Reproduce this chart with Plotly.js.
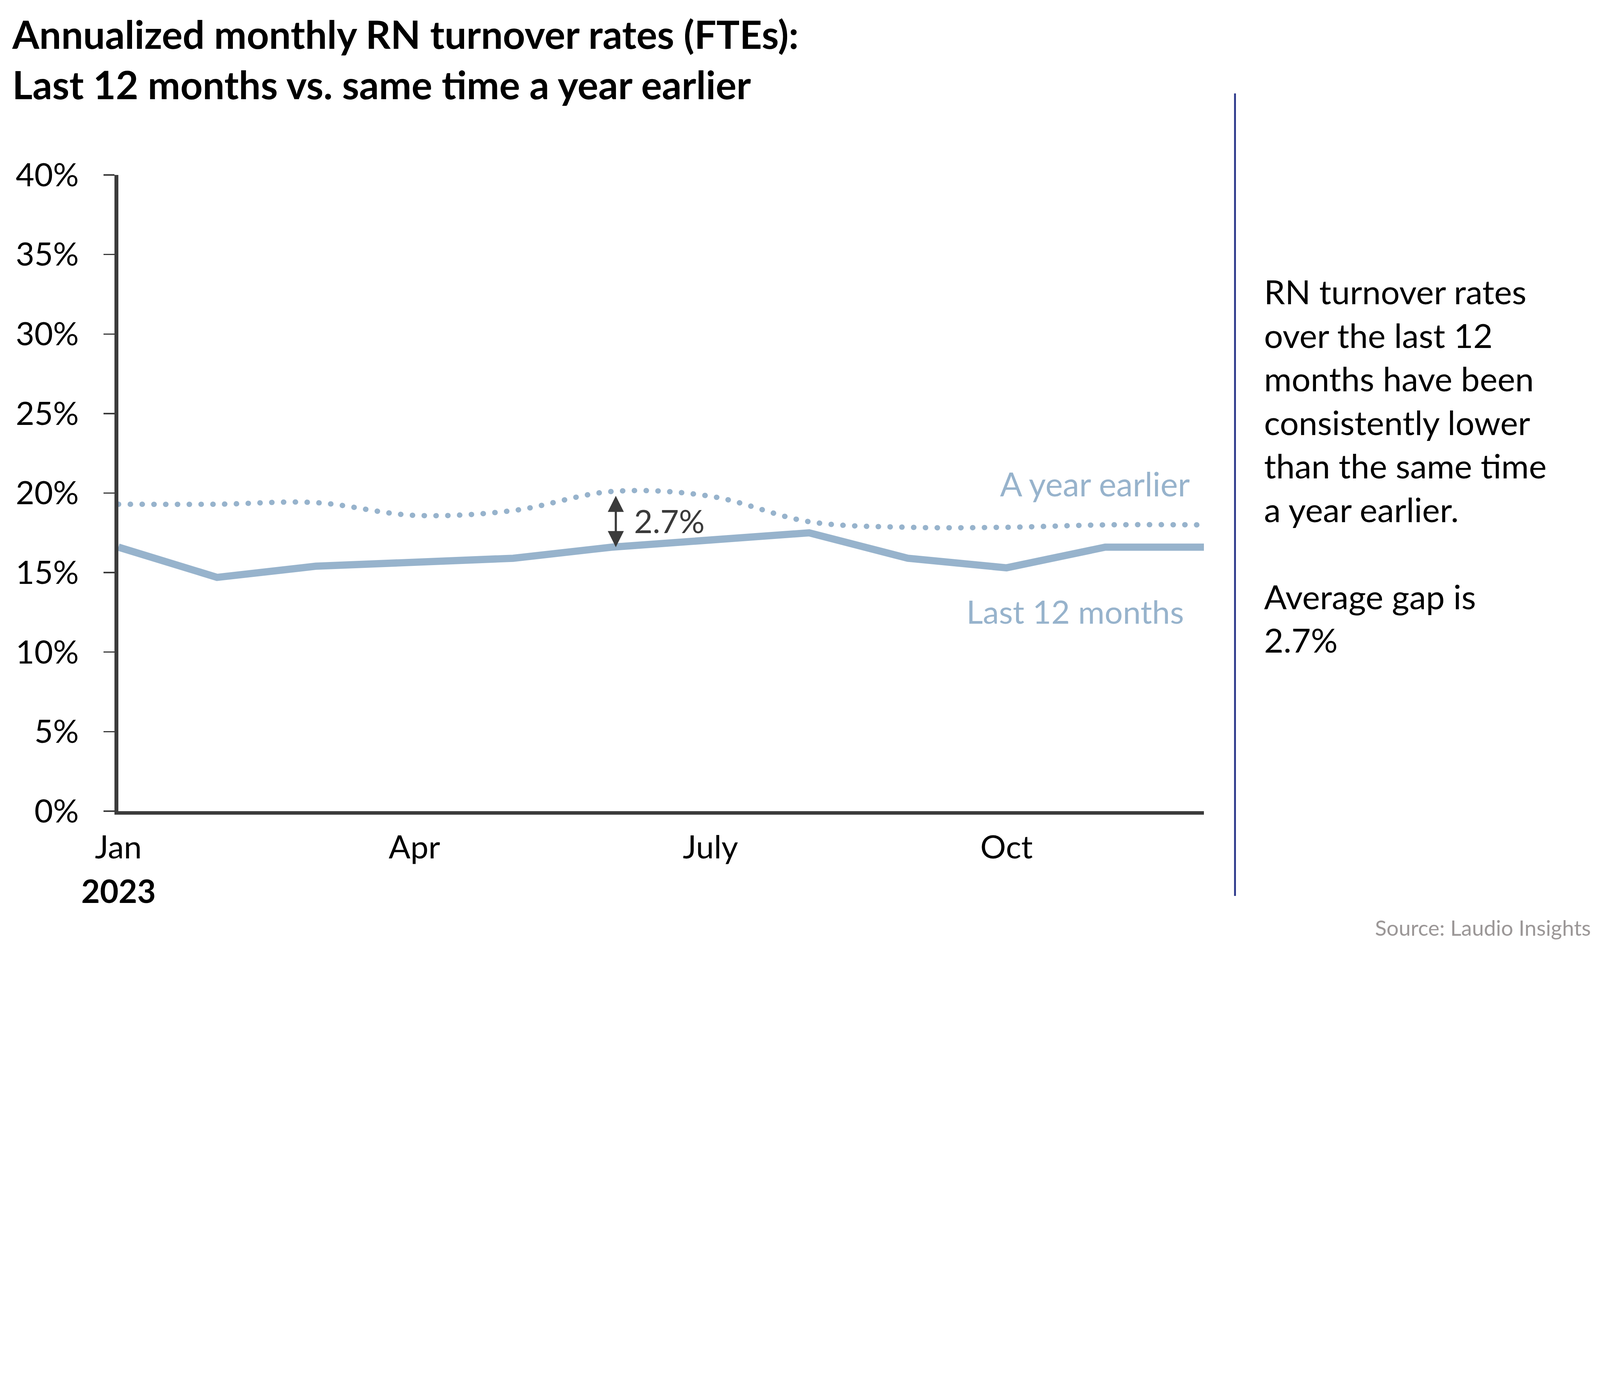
<!DOCTYPE html>
<html>
<head>
<meta charset="utf-8">
<script src="https://cdn.plot.ly/plotly-3.0.1.min.js"></script>
<style>
  html, body { margin: 0; padding: 0; background: #ffffff; overflow: hidden; }
</style>
</head>
<body>
<div id="chart"></div>
<script>
// ---- data ----
const months = ['Jan','Feb','Mar','Apr','May','Jun','Jul','Aug','Sep','Oct','Nov','Dec'];
const last12Months = [16.6, 14.7, 15.4, 15.6, 15.9, 16.6, 17.05, 17.5, 15.9, 15.3, 16.6, 16.6];
const yearEarlier  = [19.3, 19.3, 19.4, 18.6, 18.9, 20.1, 19.8, 18.2, 17.85, 17.85, 18.0, 18.0];
const tickMonths = ['Jan','Apr','Jul','Oct'];
const tickMonthLabels = ['Jan','Apr','July','Oct'];
const yTicks = [0,5,10,15,20,25,30,35,40];
const gapLabel = '2.7%';
const sideText = ['RN turnover rates','over the last 12','months have been','consistently lower','than the same time','a year earlier.','','Average gap is','2.7%'];

// ---- design space 5968 x 3554, scaled to the actual viewport ----
const W = 5968, H = 3554;
const vw = window.innerWidth || W, vh = window.innerHeight || H;
const k = Math.min(vw / W, vh / H);
const s = v => v * k;
const si = v => Math.max(0, Math.round(v * k));
const M = {l: 441, r: 1477, t: 653, b: 528};
const PW = W - M.l - M.r, PH = H - M.t - M.b;
const px2x = p => (p - M.l) / PW;
const py2y = p => (H - M.b - p) / PH;
const lineColor = '#97b3cc';
const axisColor = '#3b3b3b';
const FONT = 'Lato, "Open Sans", sans-serif';
const fs = 120;

const traces = [
  {
    x: months, y: yearEarlier, type: 'scatter', mode: 'lines',
    name: 'A year earlier',
    line: {color: lineColor, width: s(20), shape: 'spline', smoothing: 1,
           dash: s(1) + 'px,' + s(43) + 'px'},
    hoverinfo: 'skip'
  },
  {
    x: months, y: last12Months, type: 'scatter', mode: 'lines',
    name: 'Last 12 months',
    line: {color: lineColor, width: s(27)},
    hoverinfo: 'skip'
  }
];

const layout = {
  width: s(W), height: s(H),
  margin: {l: s(M.l), r: s(M.r), t: s(M.t), b: s(M.b), pad: 0},
  paper_bgcolor: '#ffffff', plot_bgcolor: '#ffffff',
  showlegend: false,
  font: {family: FONT, size: s(fs), color: '#000000'},
  title: {
    text: '<b>Annualized monthly RN turnover rates (FTEs):<br>Last 12 months vs. same time a year earlier</b>',
    x: 46 / W, xref: 'container', xanchor: 'left',
    y: 1 - 182 / H, yref: 'container', yanchor: 'middle',
    font: {family: FONT, size: s(145), color: '#000000'}
  },
  xaxis: {
    type: 'category',
    range: [0, months.length - 1],
    showgrid: false, zeroline: false,
    showline: true, linecolor: axisColor, linewidth: s(13),
    ticks: '',
    tickvals: tickMonths, ticktext: tickMonthLabels,
    tickfont: {family: FONT, size: s(fs), color: '#000000'},
    ticklabelstandoff: si(19)
  },
  yaxis: {
    range: [0, 40],
    showgrid: false, zeroline: false,
    showline: true, linecolor: axisColor, linewidth: s(15),
    ticks: 'outside', ticklen: s(40), tickwidth: s(5), tickcolor: axisColor,
    tickvals: yTicks, ticktext: yTicks.map(v => v + '%'),
    tickfont: {family: FONT, size: s(fs), color: '#000000'},
    ticklabelstandoff: si(68)
  },
  shapes: [
    {type: 'line', xref: 'paper', yref: 'paper',
     x0: px2x(4607), x1: px2x(4607), y0: py2y(3342), y1: py2y(349),
     line: {color: '#2e3a8c', width: s(7)}}
  ],
  annotations: [
    // double-headed gap arrow at June
    {x: 'Jun', y: last12Months[5], xref: 'x', yref: 'y',
     ax: 'Jun', ay: yearEarlier[5], axref: 'x', ayref: 'y',
     text: '', showarrow: true, arrowside: 'end+start',
     arrowhead: 2, startarrowhead: 2, arrowsize: 1.5, startarrowsize: 1.5,
     arrowwidth: s(8), arrowcolor: axisColor, standoff: 0, startstandoff: s(14), xshift: s(15)},
    {x: 'Jun', y: (last12Months[5] + yearEarlier[5]) / 2, xref: 'x', yref: 'y',
     text: gapLabel, showarrow: false, xanchor: 'left', yanchor: 'middle', xshift: s(80), yshift: s(-6),
     font: {family: FONT, size: s(fs), color: '#3a3a3a'}},
    {x: 'Dec', y: 20.6, xref: 'x', yref: 'y', text: 'A year earlier', showarrow: false,
     xanchor: 'right', yanchor: 'middle', xshift: s(-49),
     font: {family: FONT, size: s(123), color: lineColor}},
    {x: 'Dec', y: 12.57, xref: 'x', yref: 'y', text: 'Last 12 months', showarrow: false,
     xanchor: 'right', yanchor: 'middle', xshift: s(-72),
     font: {family: FONT, size: s(fs), color: lineColor}},
    {x: 'Jan', y: py2y(3322), xref: 'x', yref: 'paper', text: '<b>2023</b>', showarrow: false,
     xanchor: 'center', yanchor: 'middle',
     font: {family: FONT, size: s(fs), color: '#000000'}},
    {x: px2x(4712), y: py2y(1736), xref: 'paper', yref: 'paper',
     text: sideText.join('<br>'), showarrow: false, align: 'left',
     xanchor: 'left', yanchor: 'middle',
     font: {family: FONT, size: s(125), color: '#000000'}},
    {x: px2x(5938), y: py2y(3460), xref: 'paper', yref: 'paper',
     text: 'Source: Laudio Insights', showarrow: false,
     xanchor: 'right', yanchor: 'middle',
     font: {family: FONT, size: s(80), color: '#9b9797'}}
  ]
};

const gd = document.getElementById('chart');
function roundDots() {
  const paths = gd.querySelectorAll('.scatterlayer .trace path.js-line');
  if (paths.length) paths[0].style.strokeLinecap = 'round';
}
Plotly.newPlot(gd, traces, layout, {displayModeBar: false, staticPlot: true}).then(() => {
  roundDots();
  gd.on('plotly_afterplot', roundDots);
});
</script>
</body>
</html>
